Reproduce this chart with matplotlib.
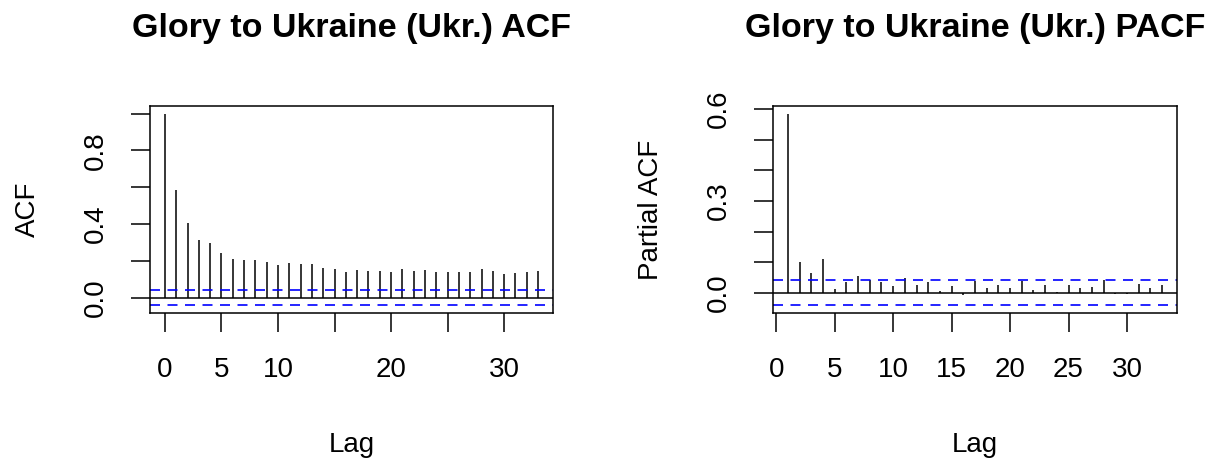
import numpy as np
import matplotlib
matplotlib.use("Agg")
import matplotlib.pyplot as plt

plt.rcParams['font.family'] = ['Liberation Sans', 'DejaVu Sans']

# Autocorrelation estimates, lags 0..33
acf_lags = list(range(0, 34))
acf_values = [1.000, 0.583, 0.406, 0.312, 0.295, 0.243, 0.210, 0.205, 0.203, 0.194,
              0.179, 0.187, 0.181, 0.181, 0.163, 0.158, 0.138, 0.149, 0.143, 0.147,
              0.141, 0.154, 0.147, 0.149, 0.138, 0.141, 0.141, 0.141, 0.156, 0.143,
              0.130, 0.136, 0.141, 0.143]

# Partial autocorrelation estimates, lags 1..33
pacf_lags = list(range(1, 34))
pacf_values = [0.585, 0.101, 0.066, 0.110, 0.011, 0.034, 0.054, 0.043, 0.035, 0.023,
               0.049, 0.024, 0.036, 0.005, 0.022, -0.007, 0.038, 0.015, 0.026, 0.016,
               0.037, 0.010, 0.025, 0.004, 0.025, 0.015, 0.020, 0.041, -0.004, -0.003,
               0.029, 0.015, 0.024]

# 95% white-noise band
conf_limit = 0.041

acf_xticks = [0, 5, 10, 15, 20, 25, 30]
acf_xticklabels = ["0", "5", "10", "", "20", "", "30"]
acf_yticks = [0.0, 0.2, 0.4, 0.6, 0.8, 1.0]
acf_yticklabels = ["0.0", "", "0.4", "", "0.8", ""]

pacf_xticks = [0, 5, 10, 15, 20, 25, 30]
pacf_xticklabels = ["0", "5", "10", "15", "20", "25", "30"]
pacf_yticks = [0.0, 0.1, 0.2, 0.3, 0.4, 0.5, 0.6]
pacf_yticklabels = ["0.0", "", "", "0.3", "", "", "0.6"]

W, H = 1214, 458
fig = plt.figure(figsize=(W / 100, H / 100), dpi=100)


def px_axes(left, top, right, bottom):
    return fig.add_axes([left / W, 1 - bottom / H, (right - left) / W, (bottom - top) / H])


def r_range(vals):
    lo, hi = min(vals), max(vals)
    pad = (hi - lo) * 0.04
    return lo - pad, hi + pad


def correlogram(ax, lags, vals, title, ylabel, xticks, xticklabels, yticks, yticklabels):
    ax.vlines(lags, 0, vals, colors='black', linewidth=1.1)
    ax.axhline(0, color='black', linewidth=1.1)
    for c in (conf_limit, -conf_limit):
        ax.axhline(c, color='#0000FF', linewidth=1.2, linestyle=(0, (6.0, 4.5)))
    ax.set_xlim(*r_range(lags))
    ax.set_ylim(*r_range(list(vals) + [conf_limit, -conf_limit]))
    ax.set_xticks(xticks)
    ax.set_xticklabels(xticklabels, fontsize=20)
    ax.set_yticks(yticks)
    ax.set_yticklabels(yticklabels, fontsize=20, rotation=90, va='center')
    ax.tick_params(axis='both', direction='out', length=13.5, width=1.1, color='black')
    ax.tick_params(axis='x', pad=18.5)
    ax.tick_params(axis='y', pad=16)
    for s in ax.spines.values():
        s.set_linewidth(1.1)
        s.set_color('black')
    ax.set_title(title, fontsize=24.5, fontweight='bold', pad=50)
    ax.set_xlabel("Lag", fontsize=20, labelpad=35)
    ax.set_ylabel(ylabel, fontsize=20, labelpad=30)


ax1 = px_axes(150, 106, 553, 313)
correlogram(ax1, acf_lags, acf_values, "Glory to Ukraine (Ukr.) ACF", "ACF",
            acf_xticks, acf_xticklabels, acf_yticks, acf_yticklabels)

ax2 = px_axes(773, 106, 1177, 313)
correlogram(ax2, pacf_lags, pacf_values, "Glory to Ukraine (Ukr.) PACF", "Partial ACF",
            pacf_xticks, pacf_xticklabels, pacf_yticks, pacf_yticklabels)

fig.savefig("out.png", dpi=100, facecolor='white')
